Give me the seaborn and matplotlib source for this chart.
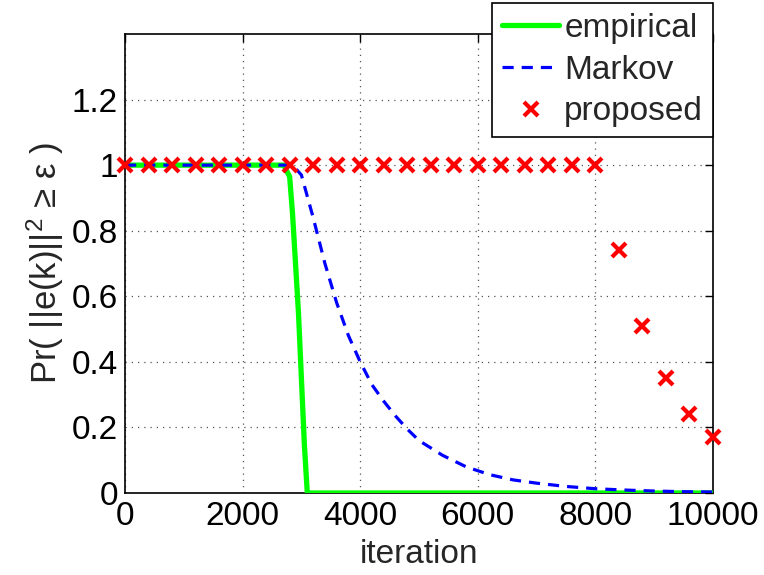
import numpy as np
import pandas as pd
import matplotlib
matplotlib.use("Agg")
import matplotlib.pyplot as plt
import seaborn as sns

# Empirical tail probability
emp_iter = [0, 2700, 2800, 2850, 2900, 2950, 3000, 3050, 3100, 10000]
emp_prob = [1.0, 1.0, 0.965, 0.85, 0.70, 0.55, 0.35, 0.15, 0.0, 0.0]

# Markov-inequality bound
mk_iter = [0, 2800, 2900, 3000, 3200, 3400, 3600, 3800, 4000, 4200, 4400, 4600,
           4800, 5000, 5400, 5800, 6200, 6600, 7000, 7500, 8000, 8500, 9000,
           9500, 10000]
mk_prob = [1.0, 1.0, 0.99, 0.97, 0.84, 0.70, 0.58, 0.48, 0.40, 0.33, 0.28, 0.235,
           0.195, 0.16, 0.115, 0.08, 0.056, 0.04, 0.03, 0.02, 0.013, 0.009, 0.006,
           0.004, 0.003]

# Proposed bound (sampled every 400 iterations)
pr_iter = [0, 400, 800, 1200, 1600, 2000, 2400, 2800, 3200, 3600, 4000, 4400,
           4800, 5200, 5600, 6000, 6400, 6800, 7200, 7600, 8000, 8400, 8800,
           9200, 9600, 10000]
pr_prob = [1.0] * 21 + [0.74, 0.51, 0.35, 0.24, 0.17]

x_ticks = [0, 2000, 4000, 6000, 8000, 10000]
y_ticks = [0, 0.2, 0.4, 0.6, 0.8, 1.0, 1.2]
y_tick_labels = ["0", "0.2", "0.4", "0.6", "0.8", "1", "1.2"]

sns.set_style("white")
plt.rcParams["font.family"] = ["Liberation Sans", "DejaVu Sans"]
plt.rcParams["mathtext.fontset"] = "custom"
plt.rcParams["mathtext.rm"] = "Liberation Sans"
plt.rcParams["mathtext.it"] = "Liberation Sans"

FS = 24

fig = plt.figure(figsize=(7.64, 5.75), dpi=100)
ax = fig.add_axes([125 / 764, 1 - 493 / 575, (713 - 125) / 764, (493 - 34) / 575])

emp_df = pd.DataFrame({"iteration": emp_iter, "prob": emp_prob})
mk_df = pd.DataFrame({"iteration": mk_iter, "prob": mk_prob})
pr_df = pd.DataFrame({"iteration": pr_iter, "prob": pr_prob})

sns.lineplot(data=emp_df, x="iteration", y="prob", ax=ax, color="#00ff00",
             linewidth=3.8, label="empirical", zorder=3)
sns.lineplot(data=mk_df, x="iteration", y="prob", ax=ax, color="#0000ff",
             linewidth=2.3, linestyle=(0, (3.5, 2.5)), label="Markov", zorder=4)
ax.plot(pr_df["iteration"], pr_df["prob"], linestyle="none", marker="x",
        color="#ff0000", markersize=10, markeredgewidth=3, label="proposed",
        zorder=5, clip_on=False)

ax.set_xlim(0, 10000)
ax.set_ylim(0, 1.4)
ax.set_xticks(x_ticks)
ax.set_xticklabels([str(t) for t in x_ticks])
ax.set_yticks(y_ticks)
ax.set_yticklabels(y_tick_labels)

ax.grid(True, color="#555555", linestyle=(0, (1, 4)), linewidth=0.9)
ax.tick_params(axis="both", which="major", direction="in", length=6, width=1,
               top=True, right=True, labelsize=FS, colors="black")
ax.tick_params(axis="x", pad=6)
ax.tick_params(axis="y", pad=5)
for s in ax.spines.values():
    s.set_visible(True)
    s.set_color("black")
    s.set_linewidth(1.2)

ax.set_xlabel("iteration", fontsize=FS, labelpad=5)
ax.set_ylabel(r"Pr( ||e(k)||$^2$ ≥ ε )", fontsize=FS + 1, labelpad=4)

leg = ax.legend(loc="upper right", bbox_to_anchor=(713 / 764, 1 - 3 / 575),
                bbox_transform=fig.transFigure, fontsize=FS, frameon=True,
                fancybox=False, edgecolor="black", framealpha=1,
                handlelength=1.7, handletextpad=0.15, borderpad=0.3,
                labelspacing=0.32, borderaxespad=0)
leg.get_frame().set_linewidth(1.2)
leg.set_zorder(10)

fig.savefig("out.png", dpi=100)
